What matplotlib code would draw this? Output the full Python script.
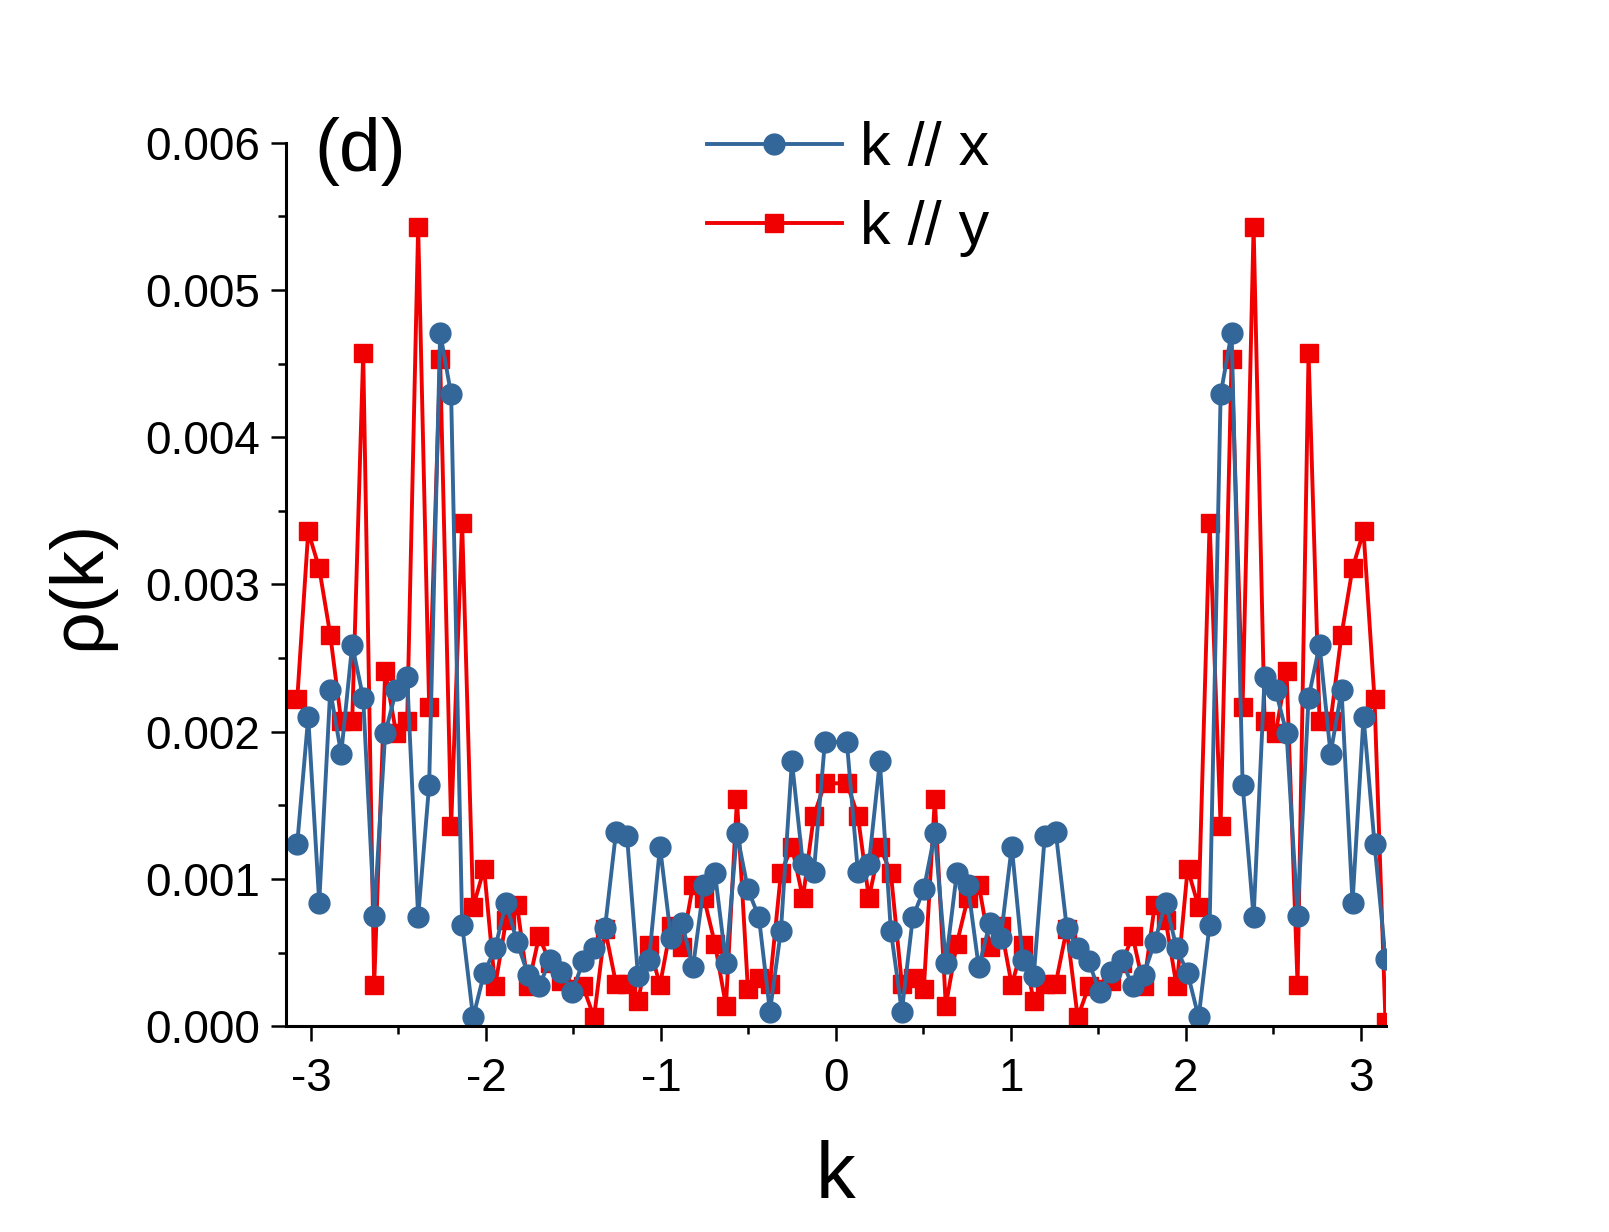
import numpy as np
import matplotlib
matplotlib.use("Agg")
import matplotlib.pyplot as plt
from matplotlib.ticker import MultipleLocator, FormatStrFormatter

plt.rcParams["font.family"] = ["Liberation Sans", "DejaVu Sans"]
plt.rcParams["axes.unicode_minus"] = False

# k = 2*pi*n/100, n = -49..-1, 1..50 (no point at k = 0)
n_left = np.arange(-49, 0)
n_right = np.arange(1, 51)
k = 2 * np.pi * np.concatenate([n_left, n_right]) / 100

# rho(k) for k // x, in units of 1e-3
rho_x_left = [1.24, 2.10, 0.84, 2.28, 1.85, 2.59, 2.23, 0.75, 1.99, 2.28,
              2.37, 0.74, 1.64, 4.71, 4.29, 0.69, 0.06, 0.36, 0.53, 0.84,
              0.57, 0.35, 0.27, 0.45, 0.37, 0.23, 0.44, 0.53, 0.67, 1.32,
              1.29, 0.34, 0.45, 1.22, 0.60, 0.70, 0.40, 0.96, 1.04, 0.43,
              1.31, 0.93, 0.74, 0.10, 0.65, 1.80, 1.10, 1.05, 1.93]
rho_x_right = [1.93, 1.05, 1.10, 1.80, 0.65, 0.10, 0.74, 0.93, 1.31, 0.43,
               1.04, 0.96, 0.40, 0.70, 0.60, 1.22, 0.45, 0.34, 1.29, 1.32,
               0.67, 0.53, 0.44, 0.23, 0.37, 0.45, 0.27, 0.35, 0.57, 0.84,
               0.53, 0.36, 0.06, 0.69, 4.29, 4.71, 1.64, 0.74, 2.37, 2.28,
               1.99, 0.75, 2.23, 2.59, 1.85, 2.28, 0.84, 2.10, 1.24, 0.46]

# rho(k) for k // y, in units of 1e-3
rho_y_left = [2.22, 3.36, 3.11, 2.66, 2.07, 2.07, 4.57, 0.28, 2.41, 1.99,
              2.07, 5.43, 2.17, 4.53, 1.36, 3.42, 0.81, 1.07, 0.27, 0.72,
              0.82, 0.27, 0.61, 0.43, 0.31, 0.25, 0.27, 0.06, 0.66, 0.29,
              0.29, 0.17, 0.55, 0.28, 0.68, 0.54, 0.96, 0.87, 0.56, 0.14,
              1.54, 0.25, 0.33, 0.29, 1.04, 1.22, 0.87, 1.43, 1.65]
rho_y_right = [1.65, 1.43, 0.87, 1.22, 1.04, 0.29, 0.33, 0.25, 1.54, 0.14,
               0.56, 0.87, 0.96, 0.54, 0.68, 0.28, 0.55, 0.17, 0.29, 0.29,
               0.66, 0.06, 0.27, 0.25, 0.31, 0.43, 0.61, 0.27, 0.82, 0.72,
               0.27, 1.07, 0.81, 3.42, 1.36, 4.53, 2.17, 5.43, 2.07, 1.99,
               2.41, 0.28, 4.57, 2.07, 2.07, 2.66, 3.11, 3.36, 2.22, 0.03]

rho_x = np.array(rho_x_left + rho_x_right) * 1e-3
rho_y = np.array(rho_y_left + rho_y_right) * 1e-3

blue = "#336699"
red = "#F00000"

fig = plt.figure(figsize=(16.09, 12.32), dpi=100)
ax = fig.add_axes([0.1779, 0.1670, 0.6832, 0.7172])

ly, = ax.plot(k, rho_y, "-s", color=red, lw=2.8, ms=13.5, label="k // y")
lx, = ax.plot(k, rho_x, "-o", color=blue, lw=2.8, ms=15, label="k // x")

ax.set_xlim(-np.pi, np.pi)
ax.set_ylim(0, 0.006)

ax.xaxis.set_major_locator(MultipleLocator(1))
ax.xaxis.set_minor_locator(MultipleLocator(0.5))
ax.yaxis.set_major_locator(MultipleLocator(0.001))
ax.yaxis.set_minor_locator(MultipleLocator(0.0005))
ax.yaxis.set_major_formatter(FormatStrFormatter("%.3f"))

for side in ["top", "right"]:
    ax.spines[side].set_visible(False)
for side in ["left", "bottom"]:
    ax.spines[side].set_linewidth(2.2)

ax.tick_params(which="major", direction="out", length=11, width=1.8,
               labelsize=33, pad=8)
ax.tick_params(axis="x", which="major", pad=11)
ax.tick_params(which="minor", direction="out", length=5.5, width=1.8)

ax.set_xlabel("k", fontsize=57, labelpad=28)
ax.set_ylabel("ρ(k)", fontsize=54, labelpad=22)

ax.text(0.026, 0.99, "(d)", transform=ax.transAxes, fontsize=54,
        ha="left", va="center")

ax.legend(handles=[lx, ly], loc="upper left", bbox_to_anchor=(0.383, 1.024),
          frameon=False, fontsize=44, handlelength=2.2, handletextpad=0.3,
          labelspacing=0.36, borderpad=0, borderaxespad=0)

fig.savefig("out.png", dpi=100)
plt.close(fig)
